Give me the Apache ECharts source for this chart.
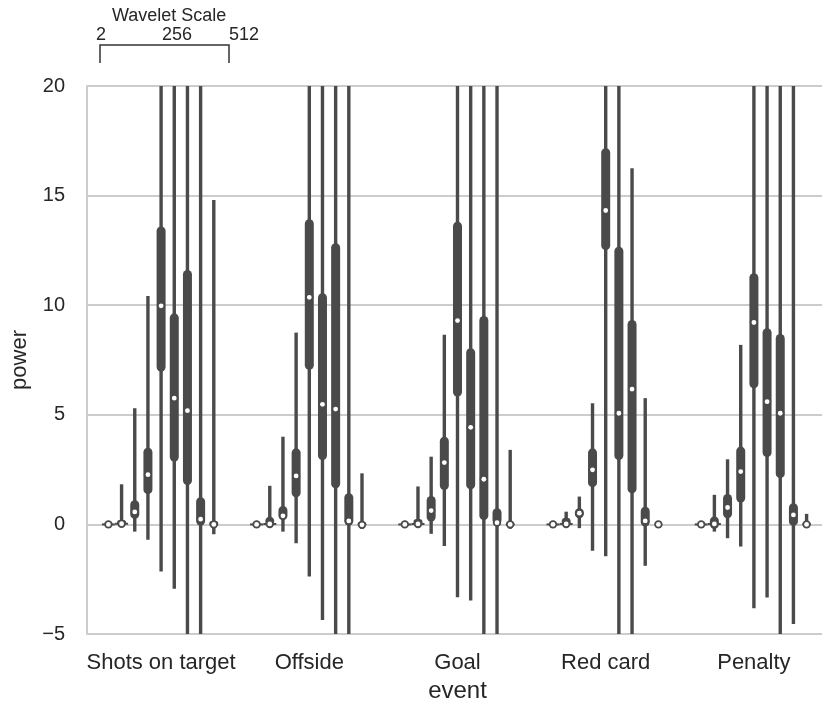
<!DOCTYPE html>
<html><head><meta charset="utf-8">
<script src="https://cdn.jsdelivr.net/npm/echarts@6/dist/echarts.min.js"></script>
<style>html,body{margin:0;padding:0;background:#fff}#c{width:822px;height:707px}</style>
</head><body><div id="c"></div>
<script>
const events = ['Shots on target', 'Offside', 'Goal', 'Red card', 'Penalty'];
const scales = [2, 4, 8, 16, 32, 64, 128, 256, 512];
const yTicks = [-5, 0, 5, 10, 15, 20];
// each row: [low whisker, Q1, median, Q3, high whisker], one row per wavelet scale 2..512
const shotsOnTarget = [
  [-0.06, -0.03, 0.00, 0.03, 0.08],
  [-0.12, -0.05, 0.03, 0.20, 1.83],
  [-0.33, 0.25, 0.57, 1.10, 5.30],
  [-0.70, 1.38, 2.27, 3.50, 10.42],
  [-2.15, 6.97, 9.97, 13.59, 24],
  [-2.94, 2.87, 5.76, 9.63, 25],
  [-7, 1.80, 5.19, 11.61, 26],
  [-7, -0.05, 0.24, 1.24, 23],
  [-0.45, -0.10, 0.00, 0.15, 14.80]
];
const offside = [
  [-0.05, -0.03, 0.00, 0.03, 0.06],
  [-0.10, -0.05, 0.02, 0.35, 1.76],
  [-0.33, 0.20, 0.39, 0.84, 4.00],
  [-0.86, 1.24, 2.21, 3.47, 8.75],
  [-2.38, 7.05, 10.36, 13.92, 25],
  [-4.36, 2.94, 5.48, 10.55, 24],
  [-7, 1.65, 5.26, 12.83, 26],
  [-7, -0.05, 0.16, 1.42, 25],
  [-0.20, -0.08, -0.02, 0.10, 2.33]
];
const goal = [
  [-0.05, -0.03, 0.00, 0.03, 0.06],
  [-0.12, -0.05, 0.02, 0.25, 1.73],
  [-0.43, 0.13, 0.63, 1.30, 3.09],
  [-0.98, 1.57, 2.82, 4.00, 8.65],
  [-3.32, 5.83, 9.30, 13.81, 26],
  [-3.47, 1.60, 4.43, 8.04, 24],
  [-7, 0.20, 2.06, 9.51, 25],
  [-7, 0.00, 0.08, 0.74, 24],
  [-0.20, -0.08, 0.00, 0.10, 3.40]
];
const redCard = [
  [-0.05, -0.03, 0.00, 0.03, 0.05],
  [-0.10, -0.05, 0.02, 0.30, 0.58],
  [-0.17, 0.28, 0.51, 0.74, 1.27],
  [-1.20, 1.70, 2.49, 3.47, 5.53],
  [-1.45, 12.52, 14.32, 17.16, 26],
  [-7, 2.94, 5.07, 12.67, 25],
  [-7, 1.42, 6.17, 9.33, 16.25],
  [-1.89, -0.10, 0.16, 0.81, 5.76],
  [0.00, 0.00, 0.00, 0.00, 0.00]
];
const penalty = [
  [-0.05, -0.03, 0.00, 0.03, 0.05],
  [-0.33, -0.20, 0.02, 0.36, 1.35],
  [-0.63, 0.28, 0.77, 1.39, 2.97],
  [-1.01, 1.00, 2.41, 3.55, 8.19],
  [-3.82, 6.21, 9.21, 11.46, 25],
  [-3.34, 3.07, 5.60, 8.95, 24],
  [-7, 2.11, 5.07, 8.69, 25],
  [-4.54, -0.07, 0.43, 0.97, 26],
  [-0.05, -0.03, 0.00, 0.05, 0.48]
];
const byEvent = [shotsOnTarget, offside, goal, redCard, penalty];

const INK = '#4a4a4a';
const FONT = 'Liberation Sans, Arial, sans-serif';
const chart = echarts.init(document.getElementById('c'), null, {renderer: 'canvas'});

function renderItem(params, api) {
  const cs = params.coordSys;
  const k = params.seriesIndex;
  const band = api.size([1, 0])[0];
  const slot = band * 0.8 / scales.length;
  const cx = api.coord([api.value(0), 0])[0] + (k - (scales.length - 1) / 2) * slot;
  const py = v => Math.max(cs.y, Math.min(cs.y + cs.height, api.coord([api.value(0), v])[1]));
  const lo = py(api.value(1)), q1 = py(api.value(2)), med = py(api.value(3)),
        q3 = py(api.value(4)), hi = py(api.value(5));
  const children = [
    {type: 'line', shape: {x1: cx, y1: hi, x2: cx, y2: lo}, style: {stroke: INK, lineWidth: 3.4}},
    {type: 'rect', shape: {x: cx - 4.5, y: q3, width: 9, height: Math.max(q1 - q3, 0), r: 4.5}, style: {fill: INK}}
  ];
  if (k < 2) {
    children.push({type: 'line', shape: {x1: cx - 6.5, y1: med, x2: cx + 6.5, y2: med}, style: {stroke: INK, lineWidth: 2}});
  }
  children.push({type: 'circle', shape: {cx: cx, cy: med, r: 4.2}, style: {fill: INK}});
  children.push({type: 'circle', shape: {cx: cx, cy: med, r: 2.4}, style: {fill: '#ffffff'}});
  return {type: 'group', children: children};
}

const series = scales.map((s, i) => ({
  type: 'custom',
  name: String(s),
  renderItem: renderItem,
  encode: {x: 0, y: [1, 2, 3, 4, 5]},
  data: events.map((e, ci) => [ci].concat(byEvent[ci][i])),
  z: 3
}));

chart.setOption({
  animation: false,
  backgroundColor: '#ffffff',
  grid: {left: 87, right: -6, top: 86, bottom: 73, containLabel: false, outerBoundsMode: 'none'},
  xAxis: {
    type: 'category',
    data: events,
    boundaryGap: true,
    axisLine: {show: true, lineStyle: {color: '#cccccc', width: 2}},
    axisTick: {show: false},
    axisLabel: {interval: 0, fontSize: 22, color: '#262626', margin: 18, fontFamily: FONT},
    splitLine: {show: false},
    name: 'event',
    nameLocation: 'middle',
    nameGap: 44,
    nameTextStyle: {fontSize: 24, color: '#262626', fontFamily: FONT}
  },
  yAxis: {
    type: 'value',
    min: yTicks[0],
    max: yTicks[yTicks.length - 1],
    interval: 5,
    axisLine: {show: true, lineStyle: {color: '#cccccc', width: 2}},
    axisTick: {show: false},
    axisLabel: {fontSize: 20, color: '#262626', margin: 22, fontFamily: FONT,
      formatter: v => (v < 0 ? '\u2212' + Math.abs(v) : String(v))},
    splitLine: {show: true, lineStyle: {color: '#cccccc', width: 2}},
    name: 'power',
    nameLocation: 'middle',
    nameGap: 56,
    nameTextStyle: {fontSize: 22, color: '#262626', fontFamily: FONT}
  },
  graphic: [
    {type: 'text', left: 112, top: 7, style: {text: 'Wavelet Scale', font: '18px ' + FONT, fill: '#262626'}},
    {type: 'text', left: 96, top: 26, style: {text: String(scales[0]), font: '18px ' + FONT, fill: '#262626'}},
    {type: 'text', left: 162, top: 26, style: {text: String(scales[7]), font: '18px ' + FONT, fill: '#262626'}},
    {type: 'text', left: 229, top: 26, style: {text: String(scales[8]), font: '18px ' + FONT, fill: '#262626'}},
    {type: 'polyline', shape: {points: [[100, 63], [100, 45], [229, 45], [229, 63]]},
      style: {stroke: '#333333', lineWidth: 1.5, fill: null}}
  ],
  series: series
});
</script></body></html>
